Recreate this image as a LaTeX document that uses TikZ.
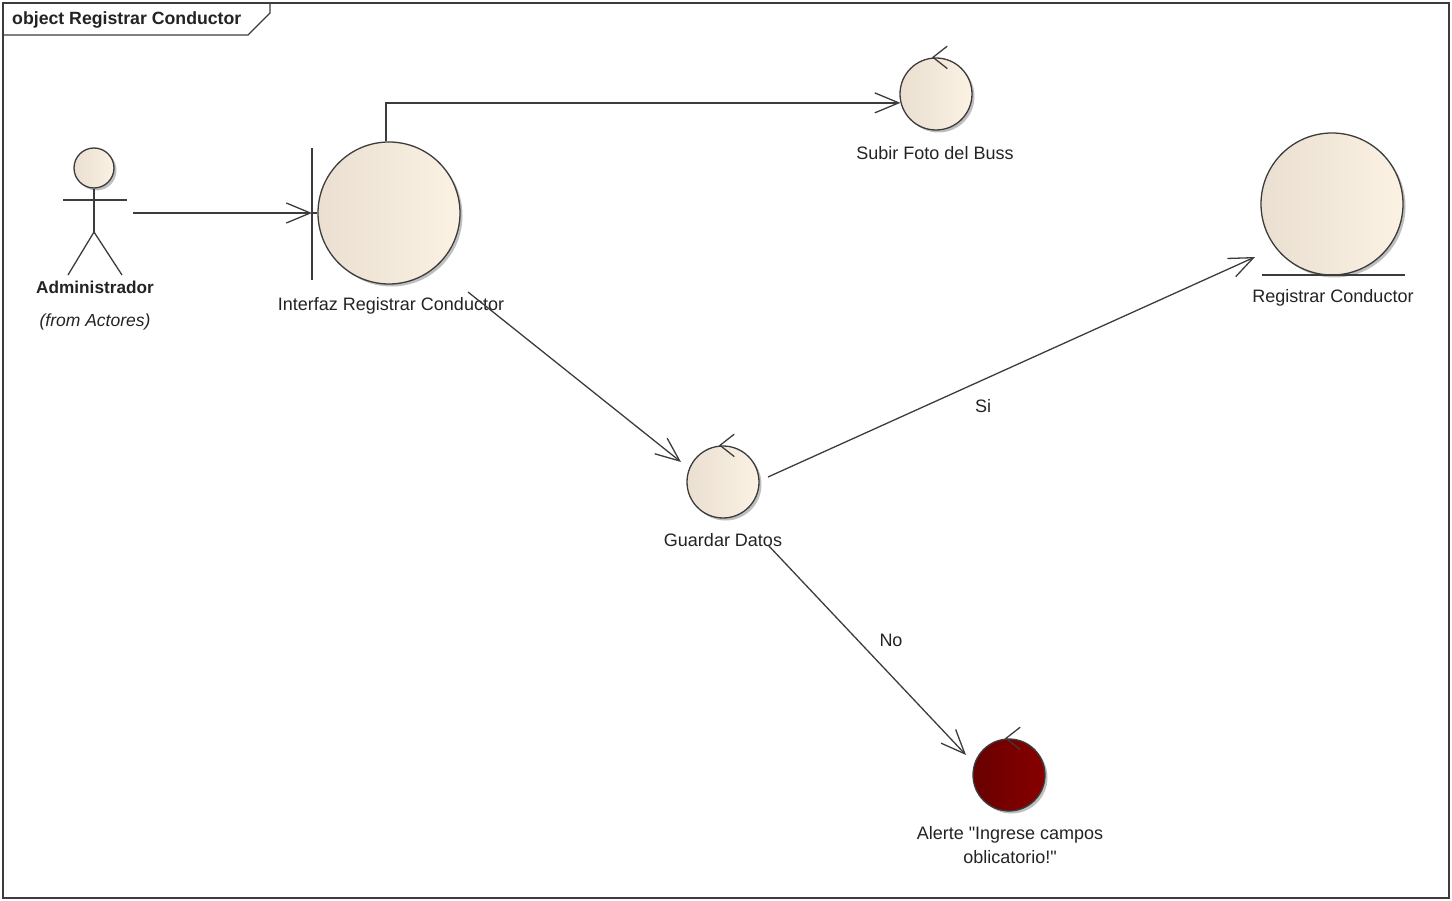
\documentclass[tikz,border=0pt]{standalone}
\usepackage{fontspec}
\setmainfont{Liberation Sans}[Ligatures=TeXOff]
\usetikzlibrary{arrows.meta,shadows,calc}
\definecolor{ln}{RGB}{60,60,60}
\definecolor{fillL}{RGB}{234,223,208}
\definecolor{fillR}{RGB}{251,242,228}
\definecolor{alertL}{RGB}{105,0,0}
\definecolor{alertR}{RGB}{135,0,0}
\definecolor{txt}{RGB}{35,35,35}
\begin{document}
\begin{tikzpicture}[x=1pt,y=-1pt,
  every node/.style={font=\fontsize{18}{21}\selectfont, text=txt},
  objc/.style={circle, draw=ln, line width=1.3pt, left color=fillL, right color=fillR, inner sep=0pt,
     drop shadow={shadow xshift=2.5pt,shadow yshift=-2.5pt,opacity=0.25,fill=black}},
  alertc/.style={objc, left color=alertL, right color=alertR},
  lbl/.style={inner sep=0pt, anchor=center},
  ln/.style={draw=ln, line width=1.3pt},
  arr/.style={ln, -{Straight Barb[length=24pt,width=20pt,line width=1.3pt]}},
  ctrl/.style={ln, line cap=round}
]
\useasboundingbox (0,0) rectangle (1452,901);
% frame
\draw[ln] (3,3) rectangle (1449,898);
\draw[ln] (3,35) -- (248,35) -- (270,13) -- (270,3);
\node[lbl, anchor=west, font=\bfseries\fontsize{17.7}{21}\selectfont] (title) at (12,20) {object Registrar Conductor};

% actor
\node[objc, minimum size=40pt] (head) at (94,168) {};
\draw[ln] (head.south) -- (94,232) coordinate (hip);
\draw[ln] (63,200) -- (127,200);
\draw[ln] (68,275) -- (hip) -- (122,275);
\node[lbl, font=\bfseries\fontsize{17.2}{21}\selectfont] (adm) at (95,287) {Administrador};
\node[lbl, font=\itshape\fontsize{17.5}{21}\selectfont] (from) at (95,322) {(from Actores)};
\coordinate (actR) at (133,213);

% boundary
\node[objc, minimum size=142pt] (ic) at (389,213) {};
\draw[ln] (312,148) -- (312,280);
\coordinate (ibar) at (312,213);
\draw[ln] (ibar) -- (ic.west);
\node[lbl] (icl) at (391,306) {Interfaz Registrar Conductor};

% control: Subir Foto
\node[objc, minimum size=72pt] (sf) at (936,94) {};
\draw[ctrl] ([xshift=-3pt]sf.north) ++(14,-11) -- ++(-14,11) -- ++(14,11);
\node[lbl] (sfl) at (935,153) {Subir Foto del Buss};

% control: Guardar Datos
\node[objc, minimum size=72pt] (gd) at (723,482) {};
\draw[ctrl] ([xshift=-3pt]gd.north) ++(14,-11) -- ++(-14,11) -- ++(14,11);
\node[lbl] (gdl) at (723,540) {Guardar Datos};

% entity: Registrar Conductor
\node[objc, minimum size=142pt] (rc) at (1332,204) {};
\draw[ln] (1262,275) -- (1405,275);
\node[lbl] (rcl) at (1333,298) {Registrar Conductor};

% alert control
\node[alertc, minimum size=72pt] (al) at (1009,775) {};
\draw[ctrl] ([xshift=-3pt]al.north) ++(14,-11) -- ++(-14,11) -- ++(14,11);
\node[lbl, align=center, font=\fontsize{18}{24}\selectfont] (all) at (1010,845) {Alerte "Ingrese campos\\oblicatorio!"};

% connectors
\draw[arr] (actR) -- (ibar);
\draw[arr] ([xshift=-3pt]ic.north) |- (sf.194);
\draw[arr] ($(ic.center)+(79,79)$) -- ($(gd.center)+(-42,-20)$);
\draw[arr] ($(gd.center)+(45,-5)$) -- ($(rc.center)+(-77,53)$);
\node[lbl] (si) at (983,406) {Si};
\draw[arr] ($(gd.center)+(45,63)$) -- ($(al.center)+(-43,-20)$);
\node[lbl] (no) at (891,640) {No};
\end{tikzpicture}
\end{document}
